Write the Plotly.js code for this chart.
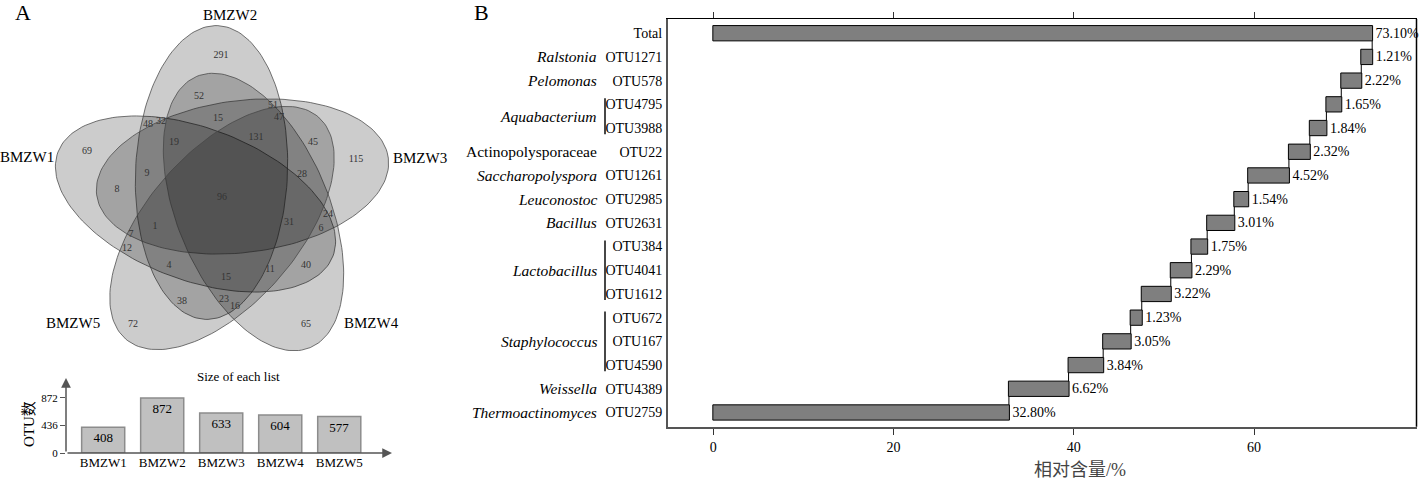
<!DOCTYPE html>
<html><head><meta charset="utf-8">
<script src="https://cdn.plot.ly/plotly-3.0.1.min.js"></script>
<style>body{margin:0;padding:0;background:#fff}#chart{width:1419px;height:483px}</style>
</head><body><div id="chart"></div>
<script>
// ---------------- DATA ----------------
// Panel A: Venn diagram
const setNames = ['BMZW1', 'BMZW2', 'BMZW3', 'BMZW4', 'BMZW5'];
const setSizes = [408, 872, 633, 604, 577];
const vennCounts = [291, 52, 51, 47, 48, 32, 15, 131, 19, 45, 69, 115, 9, 28, 8, 96, 24, 31, 1, 6, 7, 12, 4, 40, 11, 15, 38, 23, 16, 72, 65];
const sizeTicks = [0, 436, 872];

// Panel B: relative abundance (waterfall), bottom to top
const otuLabels = ['OTU2759', 'OTU4389', 'OTU4590', 'OTU167', 'OTU672', 'OTU1612', 'OTU4041', 'OTU384', 'OTU2631', 'OTU2985', 'OTU1261', 'OTU22', 'OTU3988', 'OTU4795', 'OTU578', 'OTU1271', 'Total'];
const otuPercent = [32.80, 6.62, 3.84, 3.05, 1.23, 3.22, 2.29, 1.75, 3.01, 1.54, 4.52, 2.32, 1.84, 1.65, 2.22, 1.21, 73.10];
const genusNames = ['Thermoactinomyces', 'Weissella', 'Staphylococcus', 'Lactobacillus', 'Bacillus', 'Leuconostoc', 'Saccharopolyspora', 'Actinopolysporaceae', 'Aquabacterium', 'Pelomonas', 'Ralstonia'];
const genusMembers = [['OTU2759'], ['OTU4389'], ['OTU4590', 'OTU167', 'OTU672'], ['OTU1612', 'OTU4041', 'OTU384'], ['OTU2631'], ['OTU2985'], ['OTU1261'], ['OTU22'], ['OTU3988', 'OTU4795'], ['OTU578'], ['OTU1271']];
const genusItalic = [true, true, true, true, true, true, true, false, true, true, true];
const xTicksB = [0, 20, 40, 60];

// ---------------- LAYOUT GEOMETRY ----------------
const W = 1419, H = 483;
const px = v => v / W;
const py = v => 1 - v / H;
const SERIF = 'Liberation Serif, Times New Roman, serif';
const CJK = 'Liberation Serif, Noto Sans CJK SC, serif';

// Venn label positions (pixel frame of panel A)
const vennLabelX = [221, 199, 273, 279, 148, 161, 218, 256, 174, 313, 87, 356, 147, 302, 117, 222, 328, 289, 155, 321, 131, 127, 169, 306, 270, 226, 182, 224, 235, 133, 306];
const vennLabelY = [55, 96, 105, 117, 124, 121, 118, 137, 142, 142, 151, 159, 173, 174, 189, 197, 214, 222, 226, 228, 234, 248, 265, 265, 269, 277, 301, 299, 306, 324, 324];
const setLabelPos = [[27, 157], [230, 15], [420, 158], [371, 323], [73, 323]];
// ellipse geometry: centre, rotation (deg), semi-axes
const ellGeom = [
  {cx: 195.5, cy: 204, ang: 20.7},
  {cx: 211.5, cy: 172.5, ang: 92.5},
  {cx: 242.5, cy: 176.5, ang: -7.2},
  {cx: 253.5, cy: 212, ang: 67.3},
  {cx: 222, cy: 228, ang: -49}
];
const EA = 147, EB = 76;

function ellipsePts(e) {
  const xs = [], ys = [];
  const ca = Math.cos(e.ang * Math.PI / 180), sa = Math.sin(e.ang * Math.PI / 180);
  for (let i = 0; i <= 160; i++) {
    const t = 2 * Math.PI * i / 160;
    const c = Math.cos(t), s = Math.sin(t);
    xs.push(e.cx + EA * c * ca - EB * s * sa);
    ys.push(e.cy + EA * c * sa + EB * s * ca);
  }
  return {xs, ys};
}

const traces = [];
ellGeom.forEach((e, i) => {
  const p = ellipsePts(e);
  traces.push({
    type: 'scatter', mode: 'lines', x: p.xs, y: p.ys, xaxis: 'x3', yaxis: 'y3',
    fill: 'toself', fillcolor: 'rgba(0,0,0,0.2)',
    line: {color: 'rgba(70,70,70,0.75)', width: 1}, hoverinfo: 'skip', showlegend: false, name: setNames[i]
  });
});
traces.push({
  type: 'scatter', mode: 'text', x: vennLabelX, y: vennLabelY, text: vennCounts.map(String),
  xaxis: 'x3', yaxis: 'y3', textfont: {family: SERIF, size: 10, color: '#333'},
  hoverinfo: 'skip', showlegend: false
});

// Bar chart of set sizes
traces.push({
  type: 'bar', x: setNames, y: setSizes, xaxis: 'x2', yaxis: 'y2', width: 0.73,
  marker: {color: '#c0c0c0', line: {color: '#8c8c8c', width: 1.5}},
  text: setSizes.map(String), textposition: 'inside', insidetextanchor: 'end',
  textfont: {family: SERIF, size: 13, color: '#000'}, insidetextfont: {family: SERIF, size: 13, color: '#000'},
  constraintext: 'none', hoverinfo: 'skip', showlegend: false
});

// Panel B waterfall
const measures = otuLabels.map(l => l === 'Total' ? 'absolute' : 'relative');
traces.push({
  type: 'waterfall', orientation: 'h', y: otuLabels, x: otuPercent, measure: measures,
  xaxis: 'x', yaxis: 'y',
  text: otuPercent.map(v => v.toFixed(2) + '%'), textinfo: 'text', textposition: 'outside',
  textfont: {family: SERIF, size: 14, color: '#000'}, cliponaxis: false,
  increasing: {marker: {color: '#7f7f7f', line: {color: '#000', width: 1}}},
  decreasing: {marker: {color: '#7f7f7f', line: {color: '#000', width: 1}}},
  totals: {marker: {color: '#7f7f7f', line: {color: '#000', width: 1}}},
  connector: {mode: 'between', line: {color: '#000', width: 1}},
  hoverinfo: 'skip', showlegend: false
});
// dummy trace for top tick axis
traces.push({type: 'scatter', x: [], y: [], xaxis: 'x4', yaxis: 'y', hoverinfo: 'skip', showlegend: false});

// annotations
const ann = [];
function paperText(text, x, y, font, extra) {
  return Object.assign({text: text, x: px(x), y: py(y), xref: 'paper', yref: 'paper', xanchor: 'center', yanchor: 'middle', showarrow: false, font: font}, extra || {});
}
ann.push(paperText('A', 23, 13, {family: SERIF, size: 22, color: '#000'}));
ann.push(paperText('B', 481, 13, {family: SERIF, size: 22, color: '#000'}));
setNames.forEach((n, i) => {
  ann.push({text: n, x: setLabelPos[i][0], y: setLabelPos[i][1], xref: 'x3', yref: 'y3', xanchor: 'center', yanchor: 'middle', showarrow: false, font: {family: SERIF, size: 15, color: '#000'}});
});
ann.push(paperText('Size of each list', 238, 376, {family: SERIF, size: 13, color: '#000'}));
ann.push(paperText('OTU数', 29, 424, {family: CJK, size: 15, color: '#000'}, {textangle: -90}));
// axis arrows for bar chart
ann.push({x: px(66), y: py(378), xref: 'paper', yref: 'paper', ax: 0, ay: 75, axref: 'pixel', ayref: 'pixel', showarrow: true, arrowhead: 2, arrowsize: 1.3, arrowwidth: 1.5, arrowcolor: '#555', text: ''});
ann.push({x: px(392), y: py(453), xref: 'paper', yref: 'paper', ax: -326, ay: 0, axref: 'pixel', ayref: 'pixel', showarrow: true, arrowhead: 2, arrowsize: 1.3, arrowwidth: 1.5, arrowcolor: '#555', text: ''});
// x title panel B
ann.push(paperText('相对含量/%', 1080, 470, {family: CJK, size: 18, color: '#444'}));

// genus labels and brackets
const shapes = [];
genusNames.forEach((g, i) => {
  const idx = genusMembers[i].map(m => otuLabels.indexOf(m));
  const lo = Math.min(...idx), hi = Math.max(...idx);
  const mid = (lo + hi) / 2;
  ann.push({text: genusItalic[i] ? '<i>' + g + '</i>' : g, x: px(599), y: mid, xref: 'paper', yref: 'y', xanchor: 'right', yanchor: 'middle', showarrow: false, font: {family: SERIF, size: 15.5, color: '#000'}});
  if (hi > lo) {
    shapes.push({type: 'line', xref: 'paper', yref: 'y', x0: px(605), x1: px(605), y0: lo - 0.26, y1: hi + 0.26, line: {color: '#333', width: 1.8}});
  }
});
// right frame line of panel B
shapes.push({type: 'line', xref: 'paper', yref: 'paper', x0: px(1416.5), x1: px(1416.5), y0: py(426.7), y1: py(19), line: {color: '#000', width: 1.5}});

const layout = {
  width: W, height: H, autosize: false,
  margin: {l: 0, r: 0, t: 0, b: 0, pad: 0},
  paper_bgcolor: '#fff', plot_bgcolor: 'rgba(0,0,0,0)',
  showlegend: false, hovermode: false,
  waterfallgap: 0.355,
  font: {family: SERIF, color: '#000'},
  // panel B
  xaxis: {domain: [px(668), px(1416.7)], range: [-5.03, 78.05], autorange: false, anchor: 'y',
    tickvals: xTicksB, ticktext: xTicksB.map(String), ticks: 'outside', ticklen: 6, tickcolor: '#333', tickwidth: 1,
    showline: true, linecolor: '#555', linewidth: 2, showgrid: false, zeroline: false,
    tickfont: {family: SERIF, size: 14, color: '#000'}},
  xaxis4: {overlaying: 'x', matches: 'x', side: 'top', anchor: 'y', range: [-5.03, 78.05], autorange: false,
    tickvals: xTicksB, ticks: 'outside', ticklen: 6, tickcolor: '#333', showticklabels: false,
    showline: true, linecolor: '#000', linewidth: 1, showgrid: false, zeroline: false},
  yaxis: {domain: [py(426.7), py(19)], range: [-0.6, 16.6], autorange: false, anchor: 'x', type: 'category',
    categoryorder: 'array', categoryarray: otuLabels,
    ticks: '', ticklabelstandoff: 1, showline: true, linecolor: '#555', linewidth: 2, showgrid: false, zeroline: false,
    tickfont: {family: SERIF, size: 14, color: '#000'}},
  // panel A bar chart
  xaxis2: {domain: [px(66), px(390)], range: [-0.63, 4.86], autorange: false, anchor: 'y2', type: 'category',
    ticks: '', showline: false, showgrid: false, zeroline: false, tickfont: {family: SERIF, size: 13, color: '#000'}},
  yaxis2: {domain: [py(453), py(380)], range: [0, 1157], autorange: false, anchor: 'x2',
    tickvals: sizeTicks, ticktext: sizeTicks.map(String), ticks: 'outside', ticklen: 5, tickcolor: '#555',
    showline: false, showgrid: false, zeroline: false, tickfont: {family: SERIF, size: 11, color: '#000'}},
  // panel A venn frame (1 unit = 1 px)
  xaxis3: {domain: [0, px(450)], range: [0, 450], autorange: false, visible: false, anchor: 'y3'},
  yaxis3: {domain: [py(360), 1], range: [360, 0], autorange: false, visible: false, anchor: 'x3'},
  annotations: ann,
  shapes: shapes
};

Plotly.newPlot('chart', traces, layout, {staticPlot: true, displayModeBar: false});
</script>
</body></html>
